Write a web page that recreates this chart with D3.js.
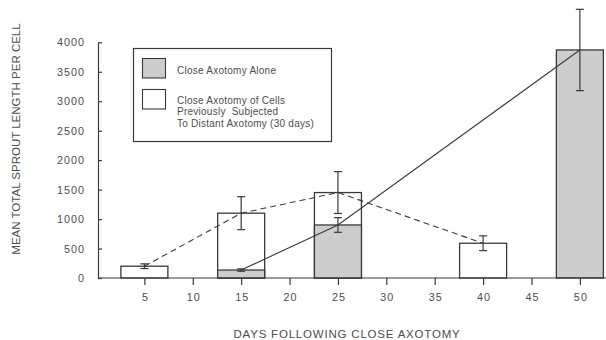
<!DOCTYPE html>
<html><head><meta charset="utf-8">
<script src="https://cdn.jsdelivr.net/npm/d3@7"></script>
<style>
html,body{margin:0;padding:0;background:#fff;}
svg{display:block;font-family:"Liberation Sans",Arial,Helvetica,sans-serif;}
</style></head>
<body><svg id="c" width="606" height="340"></svg>
<script>
// Data
const xTicks = [5, 10, 15, 20, 25, 30, 35, 40, 45, 50];
const yTicks = [0, 500, 1000, 1500, 2000, 2500, 3000, 3500, 4000];
// Close axotomy alone (shaded)
const aloneDays = [15, 25, 50];
const aloneMean = [135, 900, 3870];
const aloneErr = [20, 125, 690];
// Close axotomy after distant axotomy (open)
const priorDays = [5, 15, 25, 40];
const priorMean = [200, 1100, 1450, 590];
const priorErr = [40, 280, 355, 125];
const legendLabels = [["Close Axotomy Alone"], ["Close Axotomy of Cells", "Previously  Subjected", "To Distant Axotomy (30 days)"]];

const svg = d3.select("#c");
const ink = "#3a3a3a", txt = "#4d4d4d", shade = "#cdcdcd";
const x = d3.scaleLinear().domain([0, 52.7]).range([96, 606]);
const y = d3.scaleLinear().domain([0, 4000]).range([278, 42.3]);
const barW = 47;

const alone = aloneDays.map((d, i) => ({d, v: aloneMean[i], e: aloneErr[i]}));
const prior = priorDays.map((d, i) => ({d, v: priorMean[i], e: priorErr[i]}));

// open bars
svg.append("g").selectAll("rect").data(prior).join("rect")
  .attr("x", p => x(p.d) - barW/2).attr("width", barW)
  .attr("y", p => y(p.v)).attr("height", p => y(0) - y(p.v))
  .attr("fill", "#fff").attr("stroke", ink).attr("stroke-width", 1.3);
// shaded bars
svg.append("g").selectAll("rect").data(alone).join("rect")
  .attr("x", p => x(p.d) - barW/2).attr("width", barW)
  .attr("y", p => y(p.v)).attr("height", p => y(0) - y(p.v))
  .attr("fill", shade).attr("stroke", ink).attr("stroke-width", 1.3);

// lines
const line = d3.line().x(p => x(p.d)).y(p => y(p.v));
svg.append("path").datum(prior).attr("d", line).attr("fill", "none")
  .attr("stroke", ink).attr("stroke-width", 1.1).attr("stroke-dasharray", "6,4");
svg.append("path").datum(alone).attr("d", line).attr("fill", "none")
  .attr("stroke", ink).attr("stroke-width", 1.1);

// error bars
function errs(data) {
  const g = svg.append("g").attr("stroke", ink).attr("stroke-width", 1.2);
  data.forEach(p => {
    const cx = x(p.d), top = y(p.v + p.e), bot = y(p.v - p.e);
    g.append("line").attr("x1", cx).attr("x2", cx).attr("y1", top).attr("y2", bot);
    g.append("line").attr("x1", cx - 4).attr("x2", cx + 4).attr("y1", top).attr("y2", top);
    g.append("line").attr("x1", cx - 4).attr("x2", cx + 4).attr("y1", bot).attr("y2", bot);
  });
}
errs(prior); errs(alone);

// axes
const fmt = d3.format("d");
const xa = svg.append("g").attr("transform", `translate(0,${y(0)})`)
  .call(d3.axisBottom(x).tickValues(xTicks).tickFormat(fmt).tickSizeInner(7).tickSizeOuter(0).tickPadding(8));
const ya = svg.append("g").attr("transform", `translate(${x(0) + 2},0)`)
  .call(d3.axisLeft(y).tickValues(yTicks).tickFormat(fmt).tickSizeInner(-4).tickSizeOuter(0).tickPadding(14));
[xa, ya].forEach(a => {
  a.selectAll("path,line").attr("stroke", ink).attr("stroke-width", 1.2);
  a.selectAll("text").attr("fill", txt).attr("font-size", 10.8).attr("letter-spacing", 1)
    .attr("font-family", "'Liberation Sans',Arial,sans-serif");
});
ya.selectAll("text").attr("dx", 1);
xa.selectAll("text").attr("dx", 0.5);
xa.select(".domain").attr("d", `M${x(0)+2},0H606`);

// axis titles
svg.append("text").attr("x", 347).attr("y", 337.5).attr("text-anchor", "middle")
  .attr("fill", txt).attr("font-size", 11.5).attr("letter-spacing", 0.8).text("DAYS FOLLOWING CLOSE AXOTOMY");
svg.append("text").attr("transform", "translate(20,139) rotate(-90)").attr("text-anchor", "middle")
  .attr("fill", txt).attr("font-size", 11.5).text("MEAN TOTAL SPROUT LENGTH PER CELL");

// legend
const lg = svg.append("g");
lg.append("rect").attr("x", 133.5).attr("y", 48.5).attr("width", 198).attr("height", 93)
  .attr("fill", "#fff").attr("stroke", ink).attr("stroke-width", 1.2);
const fills = [shade, "#fff"];
const sy = [58.5, 89.5];
legendLabels.forEach((lines, i) => {
  lg.append("rect").attr("x", 142.5).attr("y", sy[i]).attr("width", 23).attr("height", 19.5)
    .attr("fill", fills[i]).attr("stroke", ink).attr("stroke-width", 1.1);
  lines.forEach((t, j) => {
    lg.append("text").attr("x", 177).attr("y", (i === 0 ? 73.5 : 103.5) + j * 11.6)
      .attr("fill", txt).attr("font-size", 10).attr("letter-spacing", 0.25)
      .attr("xml:space", "preserve").style("white-space", "pre").text(t);
  });
});
</script></body></html>
